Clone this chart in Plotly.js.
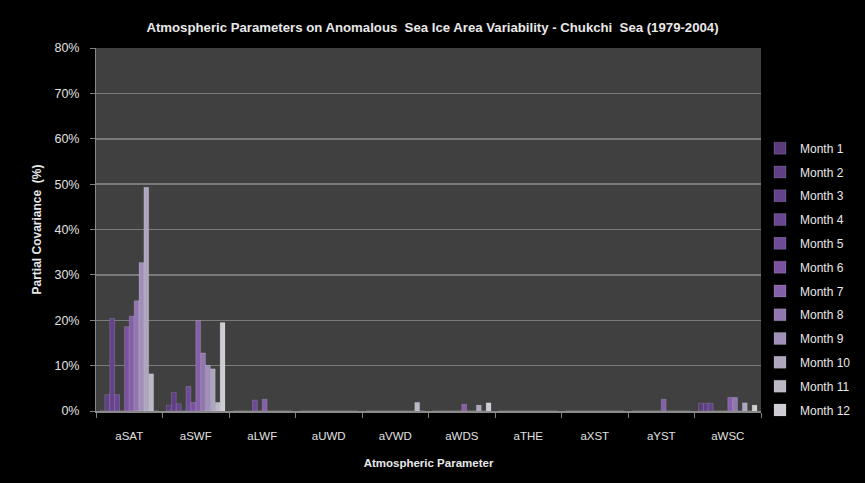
<!DOCTYPE html>
<html>
<head>
<meta charset="utf-8">
<script src="https://cdn.plot.ly/plotly-3.0.1.min.js"></script>
<style>html,body{margin:0;padding:0;background:#000;}#chart{width:865px;height:483px;}</style>
</head>
<body>
<div id="chart"></div>
<script>
const categories = ["aSAT","aSWF","aLWF","aUWD","aVWD","aWDS","aTHE","aXST","aYST","aWSC"];
const seriesNames = ["Month 1","Month 2","Month 3","Month 4","Month 5","Month 6","Month 7","Month 8","Month 9","Month 10","Month 11","Month 12"];
// Partial covariance (%) per parameter
const month1  = [0,    1.3,  0,   0, 0,   0,   0, 0, 0,   1.7];
const month2  = [3.6,  4.1,  0,   0, 0,   0,   0, 0, 0,   1.7];
const month3  = [20.4, 1.6,  0,   0, 0,   0,   0, 0, 0,   1.7];
const month4  = [3.6,  0,    0,   0, 0,   0,   0, 0, 0,   0];
const month5  = [0,    5.4,  2.4, 0, 0,   0,   0, 0, 0,   0];
const month6  = [18.6, 1.9,  0,   0, 0,   0,   0, 0, 0,   0];
const month7  = [20.9, 19.9, 2.6, 0, 0,   1.5, 0, 0, 2.6, 3.0];
const month8  = [24.3, 12.8, 0,   0, 0,   0,   0, 0, 0,   3.0];
const month9  = [32.7, 10.1, 0,   0, 0,   0,   0, 0, 0,   0];
const month10 = [49.3, 9.3,  0,   0, 0,   1.3, 0, 0, 0,   1.8];
const month11 = [8.2,  1.9,  0,   0, 1.9, 0,   0, 0, 0,   0];
const month12 = [0,    19.5, 0,   0, 0,   1.8, 0, 0, 0,   1.3];
const allSeries = [month1,month2,month3,month4,month5,month6,month7,month8,month9,month10,month11,month12];
const colors = ["#5b3b7e","#5f3f86","#64428c","#6a4692","#6f4a98","#7a529f","#8560aa","#9276b0","#a08fb8","#aea5bf","#bdb8c6","#cfcdd3"];
const tickVals = [0,10,20,30,40,50,60,70,80];
const tickText = ["0%","10%","20%","30%","40%","50%","60%","70%","80%"];

const FONT = "Liberation Sans, Arial, sans-serif";
const traces = allSeries.map((vals, i) => ({
  type: "bar",
  name: seriesNames[i],
  x: categories,
  y: vals,
  legendgroup: "g" + i,
  marker: {color: colors[i], line: {color: "rgba(255,255,255,0.25)", width: 0.6}},
  hoverinfo: "x+y+name"
}));

const layout = {
  width: 865, height: 483,
  paper_bgcolor: "#000000",
  plot_bgcolor: "#404040",
  margin: {l: 96, r: 104, t: 48, b: 72, autoexpand: false},
  barmode: "group",
  bargap: 0.12,
  bargroupgap: 0,
  title: {text: "Atmospheric Parameters on Anomalous  Sea Ice Area Variability - Chukchi  Sea (1979-2004)",
          font: {family: FONT, size: 13.2, color: "#e8e8e8", weight: "bold"},
          x: 0.5, xanchor: "center", y: 0.944, yanchor: "middle"},
  xaxis: {
    type: "category",
    tickson: "boundaries",
    ticks: "outside", ticklen: 5, tickcolor: "#808080",
    showline: true, linecolor: "#8a8a8a", linewidth: 2,
    showgrid: false,
    ticklabelstandoff: 13,
    tickfont: {family: FONT, size: 11.5, color: "#e0e0e0"},
    title: {text: "Atmospheric Parameter", font: {family: FONT, size: 11.5, color: "#e8e8e8", weight: "bold"}, standoff: 18}
  },
  yaxis: {
    range: [0, 80],
    tickvals: tickVals, ticktext: tickText,
    ticks: "outside", ticklen: 5, tickcolor: "#808080",
    showline: true, linecolor: "#8a8a8a", linewidth: 1,
    showgrid: true, gridcolor: "#7a7a7a", gridwidth: 1.5,
    zeroline: false,
    ticklabelstandoff: 8,
    tickfont: {family: FONT, size: 12.5, color: "#e0e0e0"},
    title: {text: "Partial Covariance  (%)", font: {family: FONT, size: 12, color: "#e8e8e8", weight: "bold"}, standoff: 10}
  },
  legend: {
    x: (760 - 96) / 665, xanchor: "left", y: 0.764, yanchor: "top",
    bgcolor: "rgba(0,0,0,0)",
    font: {family: FONT, size: 12, color: "#e8e8e8"},
    tracegroupgap: 4.8,
    itemwidth: 30
  },
  showlegend: true
};

Plotly.newPlot("chart", traces, layout, {displayModeBar: false, staticPlot: true});
</script>
</body>
</html>
